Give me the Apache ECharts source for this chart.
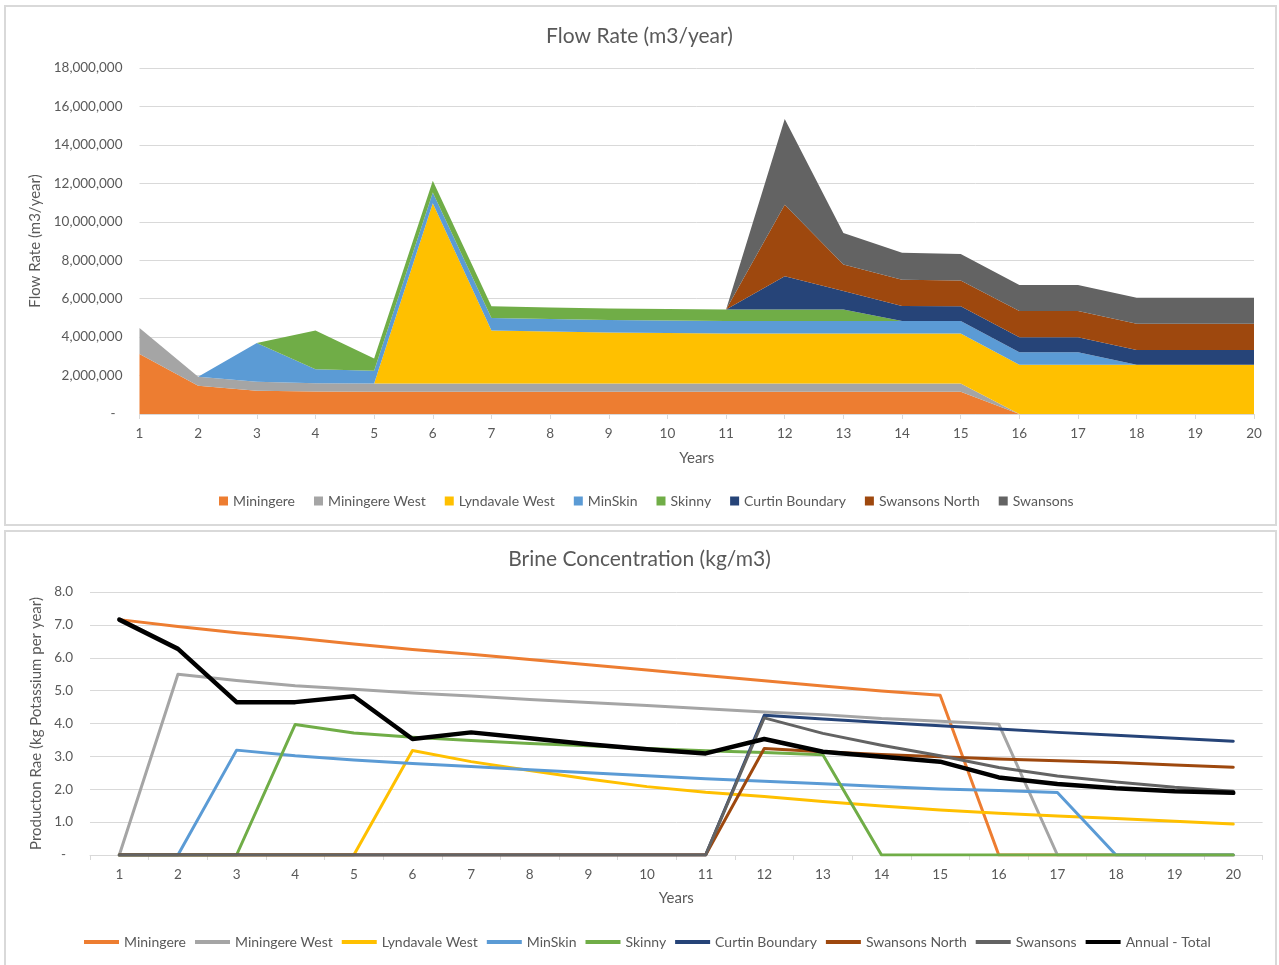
<!DOCTYPE html>
<html>
<head>
<meta charset="utf-8">
<title>Flow Rate and Brine Concentration</title>
<script src="https://cdn.jsdelivr.net/npm/echarts@6/dist/echarts.min.js"></script>
<style>
  html, body { margin: 0; padding: 0; background: #ffffff; }
  #chart { width: 1279px; height: 965px; }
</style>
</head>
<body>
<div id="chart"></div>
<script>
// ---- Data -------------------------------------------------------------
const years = ['1','2','3','4','5','6','7','8','9','10','11','12','13','14','15','16','17','18','19','20'];

const wellfields = ['Miningere', 'Miningere West', 'Lyndavale West', 'MinSkin', 'Skinny',
                    'Curtin Boundary', 'Swansons North', 'Swansons'];
const totalName = 'Annual - Total';

// Flow rate per wellfield (m3/year)
const flowMiningere      = [3120000,1470000,1210000,1170000,1160000,1160000,1160000,1160000,1160000,1160000,1160000,1160000,1160000,1160000,1160000,0,0,0,0,0];
const flowMiningereWest  = [1350000,470000,470000,430000,430000,430000,430000,430000,430000,430000,430000,430000,430000,430000,430000,0,0,0,0,0];
const flowLyndavaleWest  = [0,0,0,0,0,9370000,2760000,2700000,2650000,2620000,2600000,2600000,2600000,2600000,2600000,2560000,2560000,2560000,2560000,2560000];
const flowMinSkin        = [0,0,2020000,730000,660000,560000,650000,650000,650000,650000,650000,650000,650000,650000,650000,650000,650000,0,0,0];
const flowSkinny         = [0,0,0,2010000,640000,620000,600000,600000,600000,600000,600000,600000,600000,0,0,0,0,0,0,0];
const flowCurtin         = [0,0,0,0,0,0,0,0,0,0,0,1720000,960000,780000,760000,780000,780000,770000,770000,770000];
const flowSwansonsNorth  = [0,0,0,0,0,0,0,0,0,0,0,3720000,1380000,1370000,1350000,1370000,1370000,1360000,1360000,1360000];
const flowSwansons       = [0,0,0,0,0,0,0,0,0,0,0,4470000,1630000,1400000,1370000,1350000,1350000,1360000,1360000,1360000];

// Brine concentration per wellfield (kg/m3)
const concMiningere      = [7.16,6.95,6.76,6.60,6.42,6.25,6.11,5.95,5.79,5.63,5.46,5.30,5.14,4.99,4.86,0,0,0,0,0];
const concMiningereWest  = [0,5.50,5.31,5.15,5.04,4.93,4.84,4.73,4.64,4.55,4.45,4.35,4.27,4.15,4.07,3.98,0,0,0,0];
const concLyndavaleWest  = [0,0,0,0,0,3.18,2.84,2.57,2.31,2.08,1.91,1.78,1.63,1.49,1.37,1.27,1.19,1.11,1.03,0.94];
const concMinSkin        = [0,0,3.19,3.02,2.89,2.78,2.69,2.59,2.50,2.41,2.32,2.24,2.17,2.08,2.01,1.96,1.90,0,0,0];
const concSkinny         = [0,0,0,3.97,3.71,3.58,3.48,3.39,3.32,3.24,3.17,3.12,3.05,0,0,0,0,0,0,0];
const concCurtin         = [0,0,0,0,0,0,0,0,0,0,0,4.25,4.14,4.03,3.93,3.83,3.73,3.64,3.55,3.46];
const concSwansonsNorth  = [0,0,0,0,0,0,0,0,0,0,0,3.24,3.14,3.06,2.99,2.92,2.87,2.81,2.74,2.67];
const concSwansons       = [0,0,0,0,0,0,0,0,0,0,0,4.17,3.70,3.34,3.02,2.66,2.40,2.22,2.06,1.94];
const concTotal          = [7.16,6.27,4.65,4.65,4.83,3.53,3.73,3.55,3.37,3.22,3.09,3.53,3.14,2.99,2.84,2.36,2.16,2.03,1.94,1.89];

const flowData = [flowMiningere, flowMiningereWest, flowLyndavaleWest, flowMinSkin, flowSkinny,
                  flowCurtin, flowSwansonsNorth, flowSwansons];
const concData = [concMiningere, concMiningereWest, concLyndavaleWest, concMinSkin, concSkinny,
                  concCurtin, concSwansonsNorth, concSwansons];

// ---- Styling ----------------------------------------------------------
const palette = ['#ED7D31', '#A5A5A5', '#FFC000', '#5B9BD5', '#70AD47', '#264478', '#9E480E', '#636363'];
const totalColor = '#000000';
const FONT = 'Lato, "Open Sans", sans-serif';
const TEXT = '#595959';
const GRID = '#d9d9d9';

function thousands(v) {
  if (v === 0) return '-  ';
  return String(v).replace(/\B(?=(\d{3})+(?!\d))/g, ',');
}

const flowSeries = wellfields.map((name, i) => ({
  name: name,
  type: 'line',
  xAxisIndex: 0,
  yAxisIndex: 0,
  stack: 'flow',
  data: flowData[i],
  symbol: 'none',
  lineStyle: { width: 0 },
  itemStyle: { color: palette[i] },
  areaStyle: { color: palette[i], opacity: 1 },
  emphasis: { disabled: true }
}));

const concSeries = wellfields.map((name, i) => ({
  name: name,
  type: 'line',
  xAxisIndex: 1,
  yAxisIndex: 1,
  data: concData[i],
  symbol: 'none',
  lineStyle: { width: 3, color: palette[i], cap: 'round', join: 'round' },
  itemStyle: { color: palette[i] },
  emphasis: { disabled: true }
})).concat([{
  name: totalName,
  type: 'line',
  xAxisIndex: 1,
  yAxisIndex: 1,
  data: concTotal,
  symbol: 'none',
  lineStyle: { width: 4.5, color: totalColor, cap: 'round', join: 'round' },
  itemStyle: { color: totalColor },
  emphasis: { disabled: true }
}]);

const axisLabelStyle = { color: TEXT, fontFamily: FONT, fontSize: 13.5 };
const axisNameStyle = { color: TEXT, fontFamily: FONT, fontSize: 15 };
const titleStyle = { color: TEXT, fontFamily: FONT, fontSize: 21, fontWeight: 'normal' };
const legendText = { color: TEXT, fontFamily: FONT, fontSize: 14 };

const option = {
  animation: false,
  backgroundColor: '#ffffff',
  textStyle: { fontFamily: FONT },
  title: [
    { text: 'Flow Rate (m3/year)', left: 'center', top: 21, textStyle: titleStyle },
    { text: 'Brine Concentration (kg/m3)', left: 'center', top: 544, textStyle: titleStyle }
  ],
  legend: [
    {
      top: 489, left: 214,
      icon: 'rect', itemWidth: 9, itemHeight: 9, itemGap: 19,
      symbolKeepAspect: false,
      textStyle: legendText,
      data: wellfields.map((n, i) => ({ name: n, icon: 'rect', itemStyle: { color: palette[i], borderWidth: 0 } })),
      selectedMode: false
    },
    {
      top: 930, left: 79,
      itemWidth: 35, itemHeight: 4, itemGap: 9,
      symbolKeepAspect: false,
      textStyle: legendText,
      data: wellfields.concat([totalName]).map((n, i) => ({
        name: n, icon: 'rect',
        itemStyle: { color: i < palette.length ? palette[i] : totalColor, borderWidth: 0 }
      })),
      selectedMode: false
    }
  ],
  grid: [
    { left: 139.5, right: 25, top: 68, height: 346 },
    { left: 90, right: 16.4, top: 592, height: 263 }
  ],
  xAxis: [
    {
      gridIndex: 0, type: 'category', data: years, boundaryGap: false,
      name: 'Years', nameLocation: 'middle', nameGap: 37,
      nameTextStyle: axisNameStyle,
      axisLine: { lineStyle: { color: GRID, width: 1 } },
      axisTick: { show: true, length: 5, lineStyle: { color: GRID } },
      axisLabel: Object.assign({ margin: 13, interval: 0 }, axisLabelStyle),
      splitLine: { show: false }
    },
    {
      gridIndex: 1, type: 'category', data: years, boundaryGap: true,
      name: 'Years', nameLocation: 'middle', nameGap: 36,
      nameTextStyle: axisNameStyle,
      axisLine: { lineStyle: { color: GRID, width: 1 } },
      axisTick: { show: true, length: 5, lineStyle: { color: GRID } },
      axisLabel: Object.assign({ margin: 13, interval: 0 }, axisLabelStyle),
      splitLine: { show: false }
    }
  ],
  yAxis: [
    {
      gridIndex: 0, type: 'value', min: 0, max: 18000000, interval: 2000000,
      name: 'Flow Rate (m3/year)', nameLocation: 'middle', nameGap: 94, nameRotate: 90,
      nameTextStyle: axisNameStyle,
      axisLine: { show: false }, axisTick: { show: false },
      axisLabel: Object.assign({ margin: 17, formatter: thousands }, axisLabelStyle),
      splitLine: { lineStyle: { color: GRID, width: 1 } }
    },
    {
      gridIndex: 1, type: 'value', min: 0, max: 8, interval: 1,
      name: 'Producton Rae (kg Potassium per year)', nameLocation: 'middle', nameGap: 45, nameRotate: 90,
      nameTextStyle: axisNameStyle,
      axisLine: { show: false }, axisTick: { show: false },
      axisLabel: Object.assign({ margin: 17, formatter: v => v === 0 ? '-  ' : v.toFixed(1) }, axisLabelStyle),
      splitLine: { lineStyle: { color: GRID, width: 1 } }
    }
  ],
  graphic: [
    { type: 'rect', silent: true, z: -1,
      shape: { x: 5, y: 6, width: 1271, height: 519 },
      style: { fill: 'none', stroke: GRID, lineWidth: 2 } },
    { type: 'rect', silent: true, z: -1,
      shape: { x: 5, y: 531, width: 1271, height: 440 },
      style: { fill: 'none', stroke: GRID, lineWidth: 2 } }
  ],
  series: flowSeries.concat(concSeries)
};

const chart = echarts.init(document.getElementById('chart'), null, { renderer: 'canvas' });
chart.setOption(option);
</script>
</body>
</html>
